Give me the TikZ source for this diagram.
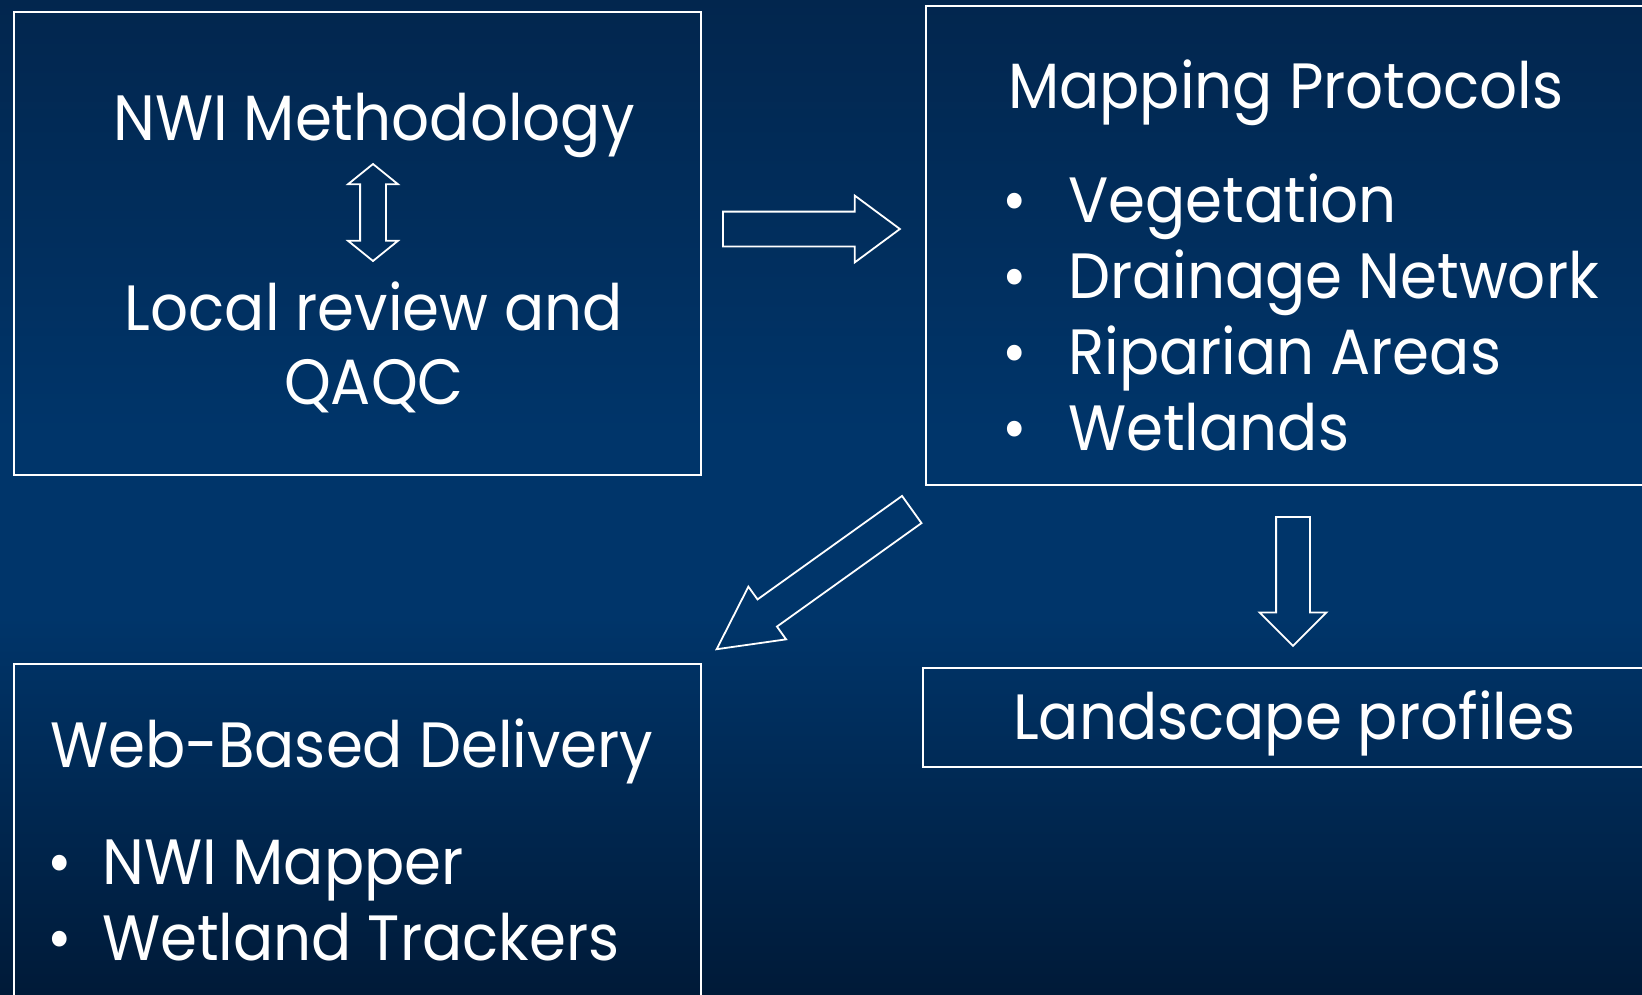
\documentclass[tikz,border=0pt]{standalone}
\usepackage{fontspec}
\setmainfont{Poppins}[FakeStretch=0.93]
\usetikzlibrary{shapes.arrows}
\definecolor{bgtop}{RGB}{2,38,78}
\definecolor{bgmid}{RGB}{0,53,106}
\definecolor{bgbot}{RGB}{0,26,56}
\pgfdeclareverticalshading{slidebg}{100bp}{color(0bp)=(bgbot); color(25bp)=(bgbot);
  color(44bp)=(bgmid); color(53bp)=(bgmid); color(75bp)=(bgtop); color(100bp)=(bgtop)}

\begin{document}
\begin{tikzpicture}[x=1pt,y=-1pt,
  panel/.style={draw=white,line width=2pt,inner sep=0pt,anchor=north west},
  txt/.style={text=white,inner sep=0pt,font=\fontsize{64}{76}\selectfont},
  blockarrow/.style={draw=white,line width=1.8pt,inner sep=0pt,single arrow,single arrow head indent=0pt,anchor=tail}]
  \clip (0,0) rectangle (1642,994);
  \shade[shading=slidebg] (0,0) rectangle (1642,994);
  % boxes
  \node[panel,minimum width=687pt,minimum height=463pt] (meth) at (13,11) {};
  \node[panel,minimum width=740pt,minimum height=479pt] (proto) at (925,5) {};
  \node[panel,minimum width=740pt,minimum height=99pt] (land) at (922,667) {};
  \node[panel,minimum width=687pt,minimum height=360pt] (web) at (13,663) {};
  % texts
  \node[txt,anchor=base] (nwi) at (374,140) {NWI Methodology};
  \node[txt,anchor=base] (local) at (374,330) {Local review and};
  \node[txt,anchor=base] (qaqc) at (374,404) {QAQC};
  \node[txt,anchor=base west] (mapping) at (1008,108) {Mapping Protocols};
  \foreach \entry [count=\i] in {Vegetation,Drainage Network,Riparian Areas,Wetlands} {
    \node[txt,anchor=base] (pb\i) at (1015,146+76*\i) {\textbullet};
    \node[txt,anchor=base west] (pi\i) at (1068,146+76*\i) {\entry};
  }
  \node[txt,anchor=base west] (profiles) at (1013,739) {Landscape profiles};
  \node[txt,anchor=base west] (delivery) at (50,767) {Web-Based Delivery};
  \foreach \entry [count=\i] in {NWI Mapper,Wetland Trackers} {
    \node[txt,anchor=base] (wb\i) at (60,808+76*\i) {\textbullet};
    \node[txt,anchor=base west] (wi\i) at (102,808+76*\i) {\entry};
  }
  % block arrows
  \node[draw=white,line width=1.8pt,inner sep=0pt,inner ysep=12pt,double arrow,double arrow head extend=12pt,
    double arrow tip angle=102,minimum height=97pt,rotate=90] (link) at (373,212.5) {};
  \node[blockarrow,inner ysep=16.5pt,minimum height=177pt,single arrow head extend=16pt,
    single arrow tip angle=73] (toproto) at (722,229) {};
  \node[blockarrow,inner ysep=16pt,minimum height=129pt,single arrow head extend=16.5pt,
    single arrow tip angle=90,rotate=-90] (toland) at (1293,516) {};
  \node[blockarrow,inner ysep=15.8pt,minimum height=240pt,single arrow head extend=15.7pt,
    single arrow tip angle=55,rotate=215.6] (toweb) at (912.5,509) {};
\end{tikzpicture}
\end{document}
